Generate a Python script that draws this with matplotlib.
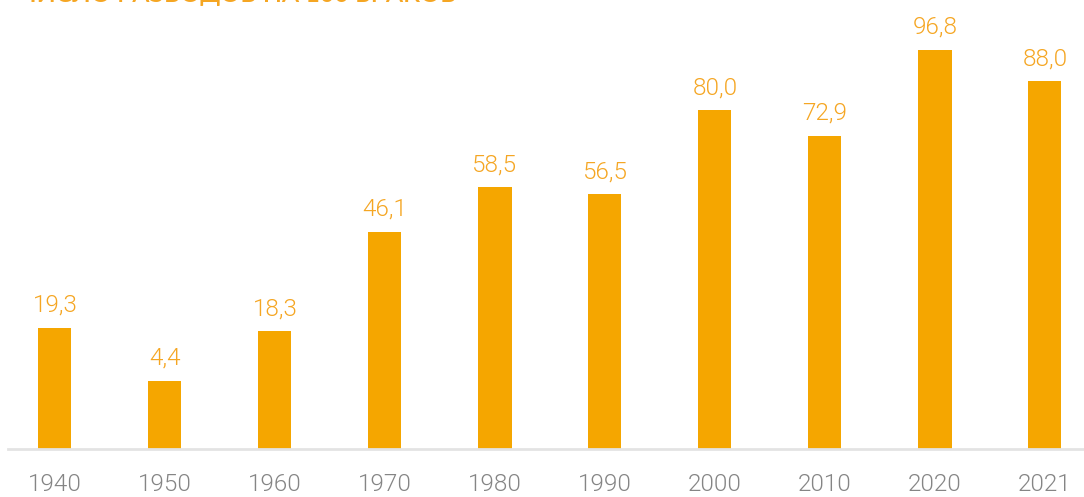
import matplotlib
matplotlib.use("Agg")
import matplotlib.pyplot as plt
import numpy as np

years = ["1940", "1950", "1960", "1970", "1980", "1990", "2000", "2010", "2020", "2021"]
values = [19.3, 4.4, 18.3, 46.1, 58.5, 56.5, 80.0, 72.9, 96.8, 88.0]
title = "ЧИСЛО РАЗВОДОВ НА 100 БРАКОВ"

BAR = "#F5A600"
LABEL = "#F5A623"
TICK = "#858585"
AXIS = "#e3e3e3"
FONT = "Roboto"

W, H = 1084, 497
fig = plt.figure(figsize=(W / 100, H / 100), dpi=100)
ax = fig.add_axes([8 / W, 48 / H, 1 - 8 / W, 1 - 48 / H])

YMIN = -14.6
x = np.arange(len(years))
ax.bar(x, [v - YMIN for v in values], bottom=YMIN, width=0.3, color=BAR, zorder=2)
for xi, v in zip(x, values):
    ax.annotate(f"{v:.1f}".replace(".", ","), (xi, v), xytext=(0, 11.5),
                textcoords="offset points", ha="center", va="baseline",
                fontsize=17.5, color=LABEL, family=FONT, fontweight=300)

ax.set_xlim((8 - 55) / 110, (W - 55) / 110)
# y scale: about 3.582 px per unit, axes height 449 px
ax.set_ylim(YMIN, YMIN + 449 / 3.582)

for s in ["top", "left", "right"]:
    ax.spines[s].set_visible(False)
ax.spines["bottom"].set_color(AXIS)
ax.spines["bottom"].set_linewidth(2)
ax.spines["bottom"].set_zorder(3)
ax.set_yticks([])
ax.set_xticks(x)
ax.set_xticklabels(years, fontsize=17.5, color=TICK, family=FONT, fontweight=300)
ax.tick_params(axis="x", length=0, pad=17.5)

fig.text(20 / W, 1 - 1.5 / H, title, ha="left", va="baseline", fontsize=18,
         color=LABEL, family="Lato", fontweight="semibold")

fig.savefig("out.png", dpi=100)
